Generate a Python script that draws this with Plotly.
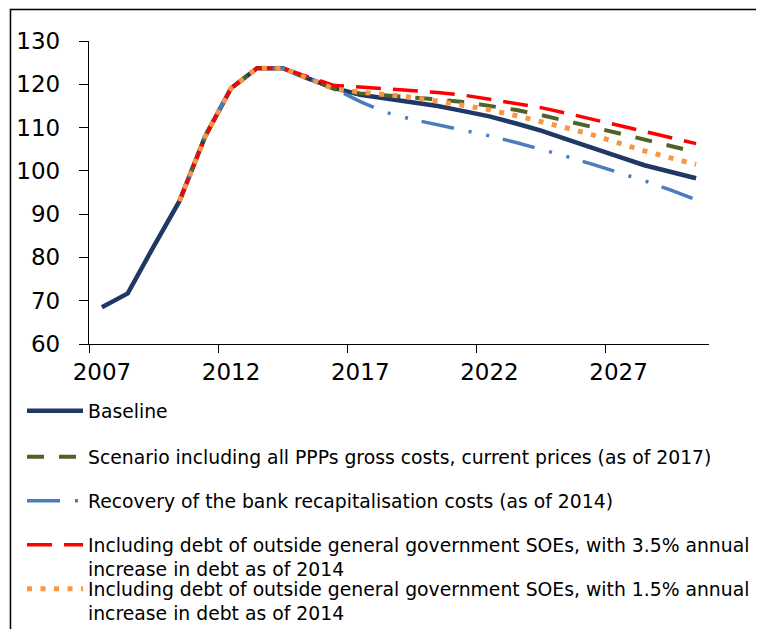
import plotly.graph_objects as go

years = list(range(2007, 2031))

baseline = [68.5, 71.7, 82.5, 93.0, 108.0, 119.1, 123.7, 123.7, 121.3, 119.1,
            117.6, 116.8, 116.0, 115.0, 113.8, 112.6, 111.0, 109.3, 107.3, 105.2,
            103.3, 101.3, 99.8, 98.3]

ppp_scenario = [None, None, None, 93.0, 108.0, 119.1, 123.7, 123.7, 121.3, 118.9,
                117.9, 117.5, 117.0, 116.5, 115.9, 115.1, 114.1, 112.9, 111.4, 110.1,
                108.7, 107.2, 105.8, 104.3]

bank_recovery = [None, None, None, 93.0, 108.0, 119.1, 123.7, 123.7, 121.3, 119.0,
                 116.0, 113.5, 111.9, 110.7, 109.4, 108.1, 106.6, 105.0, 103.3, 101.5,
                 99.7, 97.7, 95.6, 93.3]

soe_35 = [None, None, None, 93.0, 108.0, 119.1, 123.7, 123.7, 121.8, 119.7,
          119.4, 119.0, 118.6, 118.1, 117.5, 116.6, 115.7, 114.6, 113.3, 111.9,
          110.5, 109.1, 107.6, 106.3]

soe_15 = [None, None, None, 93.0, 108.0, 119.1, 123.7, 123.7, 121.3, 118.9,
          118.2, 117.7, 117.0, 116.1, 115.2, 114.1, 112.8, 111.4, 109.9, 108.3,
          106.3, 104.6, 103.0, 101.5]

names = [
    "Baseline",
    "Scenario including all PPPs gross costs, current prices (as of 2017)",
    "Recovery of the bank recapitalisation costs (as of 2014)",
    "Including debt of outside general government SOEs, with 3.5% annual<br>increase in debt as of 2014",
    "Including debt of outside general government SOEs, with 1.5% annual<br>increase in debt as of 2014",
]

x_tick_vals = [2007, 2012, 2017, 2022, 2027]
x_boundaries = [2006.5, 2011.5, 2016.5, 2021.5, 2026.5]

# page offset of the figure inside the browser window (body margin)
OFF = 8
W, H = 764 - 2 * OFF, 637 - 2 * OFF
# plot area in screen pixels
PX0, PX1, PY0, PY1 = 89, 709, 41, 344
L, R, T, B = PX0 - OFF, W - (PX1 - OFF), PY0 - OFF, H - (PY1 - OFF)
PW, PH = PX1 - PX0, PY1 - PY0


def px_x(px):
    return (px - PX0) / PW


def px_y(py):
    return (PY1 - py) / PH


fig = go.Figure()

styles = [
    (baseline, "#203864", 4.5, "solid", "legend"),
    (ppp_scenario, "#4f6228", 4, "17px,15px", "legend2"),
    (bank_recovery, "#4a7ebb", 3.5, "33px,15px,3px,15px,3px,14px", "legend3"),
    (soe_35, "#ff0000", 3.5, "25px,12px", "legend4"),
    (soe_15, "#f79646", 5, "5px,8.5px", "legend5"),
]

for (vals, color, width, dash, lg), name in zip(styles, names):
    fig.add_trace(go.Scatter(
        x=years, y=vals, mode="lines", name=name,
        line=dict(color=color, width=width, dash=dash),
        connectgaps=False, legend=lg, hoverinfo="skip"))

legend_font = dict(family="DejaVu Sans", size=18.8, color="black")
legend_ys = [411, 457, 501, 545, 589]
legend_common = dict(xref="paper", yref="paper", xanchor="left",
                     yanchor="top", font=legend_font, bgcolor="rgba(0,0,0,0)",
                     borderwidth=0, itemwidth=56, valign="top")
legends = {}
for i, ly in enumerate(legend_ys):
    key = "legend" if i == 0 else f"legend{i+1}"
    legends[key] = dict(x=px_x(22), y=px_y(ly - 19), **legend_common)

fig.add_shape(type="rect", xref="paper", yref="paper",
              x0=px_x(10.5), x1=px_x(830), y0=px_y(720), y1=px_y(9.5),
              line=dict(color="black", width=1.5), fillcolor="white", layer="below")

fig.update_layout(
    width=W, height=H,
    margin=dict(l=L, r=R, t=T, b=B, pad=0, autoexpand=False),
    paper_bgcolor="#f4f9fd",
    plot_bgcolor="rgba(0,0,0,0)",
    showlegend=True,
    **legends,
)

fig.update_xaxes(
    range=[2006.5, 2030.5], tickmode="array", tickvals=x_tick_vals,
    ticktext=[str(v) for v in x_tick_vals], ticks="",
    showline=True, linecolor="black", linewidth=1.3, showgrid=False, zeroline=False,
    tickfont=dict(family="DejaVu Sans", size=23, color="black"),
    ticklabelstandoff=7,
    minor=dict(tickmode="array", tickvals=x_boundaries, ticks="outside", ticklen=8,
               tickcolor="black", tickwidth=1.3, showgrid=False),
    fixedrange=True, automargin=False,
)
fig.update_yaxes(
    range=[60, 130], tickmode="linear", tick0=60, dtick=10, ticks="outside",
    ticklen=9, tickcolor="black", tickwidth=1.3,
    showline=True, linecolor="black", linewidth=1.3, showgrid=False, zeroline=False,
    tickfont=dict(family="DejaVu Sans", size=23, color="black"),
    ticklabelstandoff=14,
    fixedrange=True, automargin=False,
)

fig.write_html("out.html")
